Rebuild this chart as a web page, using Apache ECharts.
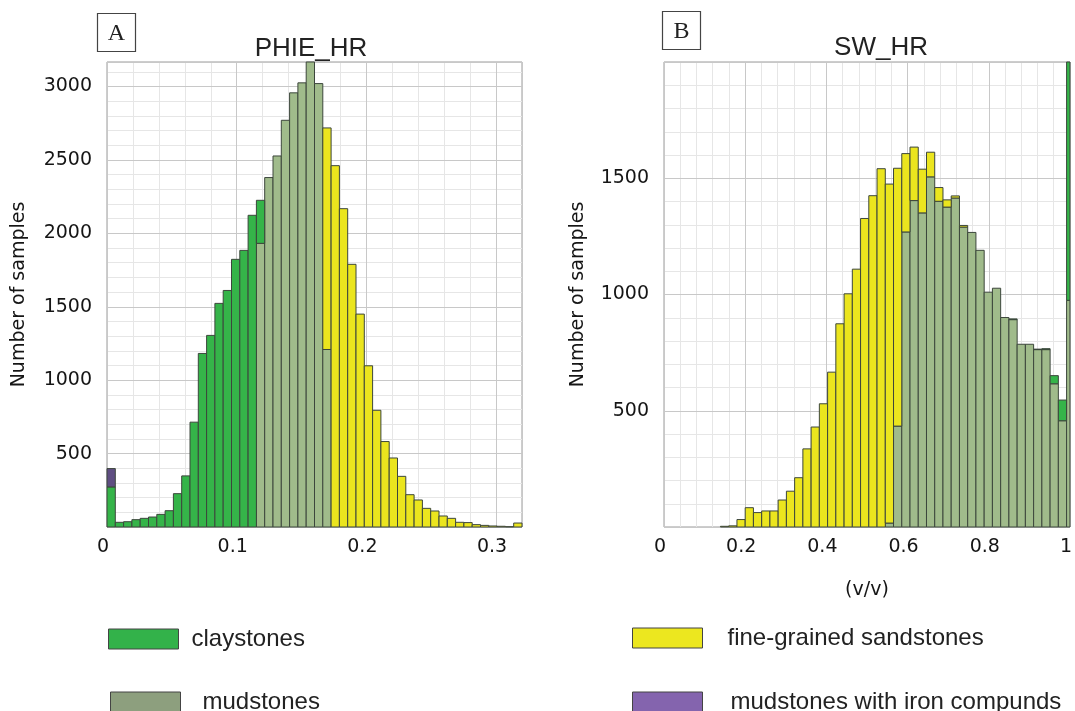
<!DOCTYPE html>
<html>
<head>
<meta charset="utf-8">
<script src="https://cdn.jsdelivr.net/npm/echarts@6/dist/echarts.min.js"></script>
<style>
html, body { margin: 0; padding: 0; background: #fff; }
#chart { width: 1075px; height: 711px; }
</style>
</head>
<body>
<div id="chart"></div>
<script>
// A: PHIE_HR histogram, 50 bins of 0.0064 starting at 0
var binStartA = 0;
var binWidthA = 0.0064;
var claystonesA = [273, 32, 36, 50, 59, 68, 86, 111, 227, 348,
    714, 1182, 1305, 1523, 1611, 1823, 1884, 2123, 293, 0,
    0, 0, 0, 0, 0, 0, 0, 0, 0, 0,
    0, 0, 0, 0, 0, 0, 0, 0, 0, 0,
    0, 0, 0, 0, 0, 0, 0, 0, 0, 0];
var mudstonesA = [0, 0, 0, 0, 0, 0, 0, 0, 0, 0,
    0, 0, 0, 0, 0, 0, 0, 0, 1932, 2380,
    2527, 2770, 2957, 3025, 3200, 3020, 1209, 0, 0, 0,
    0, 0, 0, 0, 0, 0, 0, 0, 0, 0,
    0, 0, 0, 0, 0, 0, 0, 0, 0, 0];
var sandstonesA = [0, 0, 0, 0, 0, 0, 0, 0, 0, 0,
    0, 0, 0, 0, 0, 0, 0, 0, 0, 0,
    0, 0, 0, 0, 0, 0, 1509, 2461, 2168, 1789,
    1450, 1098, 795, 582, 470, 345, 220, 184, 127, 109,
    75, 59, 32, 30, 16, 11, 7, 5, 2, 27];
var ironA = [125, 0, 0, 0, 0, 0, 0, 0, 0, 0,
    0, 0, 0, 0, 0, 0, 0, 0, 0, 0,
    0, 0, 0, 0, 0, 0, 0, 0, 0, 0,
    0, 0, 0, 0, 0, 0, 0, 0, 0, 0,
    0, 0, 0, 0, 0, 0, 0, 0, 0, 0];
var xTicksA = ['0', '0.1', '0.2', '0.3'];
var yTicksA = [500, 1000, 1500, 2000, 2500, 3000];

// B: SW_HR histogram, 43 bins of 0.0203 starting at 0.1391
var binStartB = 0.1391;
var binWidthB = 0.0203;
var sandstonesB = [3, 5, 32, 83, 62, 69, 69, 116, 154, 212,
    336, 430, 530, 666, 874, 1003, 1109, 1327, 1425, 1541,
    1458, 1109, 337, 230, 188, 106, 59, 31, 9, 7,
    0, 0, 0, 0, 0, 0, 0, 0, 0, 0,
    0, 0, 0];
var mudstonesB = [0, 0, 0, 0, 0, 0, 0, 0, 0, 0,
    0, 0, 0, 0, 0, 0, 0, 0, 0, 0,
    17, 434, 1269, 1404, 1351, 1506, 1401, 1376, 1415, 1290,
    1267, 1190, 1010, 1027, 901, 892, 786, 786, 763, 763,
    616, 457, 975];
var claystonesB = [0, 0, 0, 0, 0, 0, 0, 0, 0, 0,
    0, 0, 0, 0, 0, 0, 0, 0, 0, 0,
    0, 0, 0, 0, 0, 0, 0, 0, 0, 0,
    0, 0, 0, 0, 0, 3, 0, 0, 2, 4,
    35, 89, 1500];
var xTicksB = ['0', '0.2', '0.4', '0.6', '0.8', '1'];
var yTicksB = [500, 1000, 1500];

var colors = {
    claystones: '#35b449',
    mudstones: '#a0bb8b',
    sandstones: '#ebe51e',
    iron: '#5f4e82'
};
var legendColors = {
    claystones: '#33b24a',
    mudstones: '#8d9f7e',
    sandstones: '#ece71f',
    iron: '#8464ae'
};
var edgeColor = '#3c463c';
var tickFont = 'DejaVu Sans';
var textFont = 'Liberation Sans';

// stack the classes bin by bin: mudstones at the bottom, then claystones, sandstones, iron
function stackRows(classes, start, width) {
    var base = [];
    for (var i = 0; i < classes[0].length; i++) base.push(0);
    return classes.map(function (values) {
        var rows = [];
        values.forEach(function (v, i) {
            if (v > 0) {
                rows.push([start + i * width, start + (i + 1) * width, base[i], base[i] + v]);
                base[i] += v;
            }
        });
        return rows;
    });
}

function histSeries(name, xIdx, yIdx, rows, fill) {
    return {
        type: 'custom',
        name: name,
        xAxisIndex: xIdx,
        yAxisIndex: yIdx,
        itemStyle: { color: fill },
        encode: { x: [0, 1], y: [2, 3] },
        data: rows,
        renderItem: function (params, api) {
            var p0 = api.coord([api.value(0), api.value(3)]);
            var p1 = api.coord([api.value(1), api.value(2)]);
            var shape = echarts.graphic.clipRectByRect({
                x: p0[0], y: p0[1], width: p1[0] - p0[0], height: p1[1] - p0[1]
            }, {
                x: params.coordSys.x, y: params.coordSys.y,
                width: params.coordSys.width, height: params.coordSys.height
            });
            return shape && {
                type: 'rect',
                shape: shape,
                style: { fill: fill, stroke: edgeColor, lineWidth: 1 }
            };
        }
    };
}

function tickFormatter(list) {
    return function (v) {
        for (var i = 0; i < list.length; i++) {
            if (Math.abs(parseFloat(list[i]) - v) < 1e-9) return String(list[i]);
        }
        return '';
    };
}

function minorAxis(grid, max, interval) {
    return {
        type: 'value', gridIndex: grid, min: 0, max: max, interval: interval, z: 0,
        axisLine: { show: false }, axisTick: { show: false }, axisLabel: { show: false },
        splitLine: { show: true, lineStyle: { color: '#e6e6e6', width: 1 } }
    };
}

function majorAxis(grid, max, interval, labels, isX) {
    return {
        type: 'value', gridIndex: grid, min: 0, max: max, interval: interval, z: 1,
        position: isX ? 'bottom' : 'left',
        axisLine: { show: false }, axisTick: { show: false },
        axisLabel: {
            formatter: tickFormatter(labels),
            margin: isX ? 11 : 15,
            padding: isX ? [0, 8, 0, 0] : 0,
            fontFamily: tickFont, fontSize: 19, color: '#151515'
        },
        splitLine: { show: true, lineStyle: { color: '#c8c8c8', width: 1 } }
    };
}

var stackA = stackRows([mudstonesA, claystonesA, sandstonesA, ironA], binStartA, binWidthA);
var stackB = stackRows([mudstonesB, claystonesB, sandstonesB], binStartB, binWidthB);

var xAxes = [
    minorAxis(0, 0.32, 0.02),
    majorAxis(0, 0.32, 0.1, xTicksA, true),
    minorAxis(1, 1, 0.04),
    majorAxis(1, 1, 0.2, xTicksB, true)
];
xAxes[0].position = 'bottom';
xAxes[2].position = 'bottom';
xAxes[3].name = '(v/v)';
xAxes[3].nameLocation = 'middle';
xAxes[3].nameGap = 54;
xAxes[3].nameTextStyle = { fontFamily: tickFont, fontSize: 19, color: '#151515' };

var yAxes = [
    minorAxis(0, 3167, 100),
    majorAxis(0, 3167, 500, yTicksA, false),
    minorAxis(1, 2000, 100),
    majorAxis(1, 2000, 500, yTicksB, false)
];
yAxes[0].position = 'left';
yAxes[2].position = 'left';
[1, 3].forEach(function (i) {
    yAxes[i].name = 'Number of samples';
    yAxes[i].nameLocation = 'middle';
    yAxes[i].nameTextStyle = { fontFamily: tickFont, fontSize: 19, color: '#151515' };
});
yAxes[1].nameGap = 78;
yAxes[3].nameGap = 76;

function legendAt(name, key, left, top, gap) {
    return {
        data: [{ name: name, itemStyle: { color: legendColors[key] } }],
        left: left, top: top, padding: 0,
        icon: 'rect', itemWidth: 70, itemHeight: 20,
        selectedMode: false,
        itemStyle: { borderColor: '#444', borderWidth: 1 },
        textStyle: { fontFamily: textFont, fontSize: 24, color: '#222', padding: [0, 0, 0, gap] }
    };
}

function boxLabel(letter, x, y) {
    return {
        type: 'group',
        children: [
            { type: 'rect', shape: { x: x + 0.5, y: y + 0.5, width: 38, height: 38 },
              style: { fill: '#fff', stroke: '#444', lineWidth: 1.2 } },
            { type: 'text', x: x + 19.5, y: y + 21,
              style: { text: letter, font: '24px "Liberation Serif"', fill: '#222',
                       textAlign: 'center', textVerticalAlign: 'middle' } }
        ]
    };
}

var chart = echarts.init(document.getElementById('chart'));
chart.setOption({
    animation: false,
    backgroundColor: '#fff',
    grid: [
        { left: 107, top: 62, width: 415, height: 465, show: true,
          borderColor: '#9a9a9a', borderWidth: 1, backgroundColor: '#fff' },
        { left: 664, top: 62, width: 410, height: 465, show: true,
          borderColor: '#9a9a9a', borderWidth: 1, backgroundColor: '#fff' }
    ],
    xAxis: xAxes,
    yAxis: yAxes,
    legend: [
        legendAt('claystones', 'claystones', 108, 627, 8),
        legendAt('mudstones', 'mudstones', 110, 690, 17),
        legendAt('fine-grained sandstones', 'sandstones', 632, 626, 20),
        legendAt('mudstones with iron compunds', 'iron', 632, 690, 23)
    ],
    graphic: [
        boxLabel('A', 97, 13),
        boxLabel('B', 662, 11),
        { type: 'text', x: 311, y: 49,
          style: { text: 'PHIE_HR', font: '26px "Liberation Sans"', fill: '#222',
                   textAlign: 'center', textVerticalAlign: 'middle' } },
        { type: 'text', x: 881, y: 48,
          style: { text: 'SW_HR', font: '26px "Liberation Sans"', fill: '#222',
                   textAlign: 'center', textVerticalAlign: 'middle' } }
    ],
    series: [
        histSeries('mudstones', 1, 1, stackA[0], colors.mudstones),
        histSeries('claystones', 1, 1, stackA[1], colors.claystones),
        histSeries('fine-grained sandstones', 1, 1, stackA[2], colors.sandstones),
        histSeries('mudstones with iron compunds', 1, 1, stackA[3], colors.iron),
        histSeries('mudstones', 3, 3, stackB[0], colors.mudstones),
        histSeries('claystones', 3, 3, stackB[1], colors.claystones),
        histSeries('fine-grained sandstones', 3, 3, stackB[2], colors.sandstones)
    ]
});
</script>
</body>
</html>
